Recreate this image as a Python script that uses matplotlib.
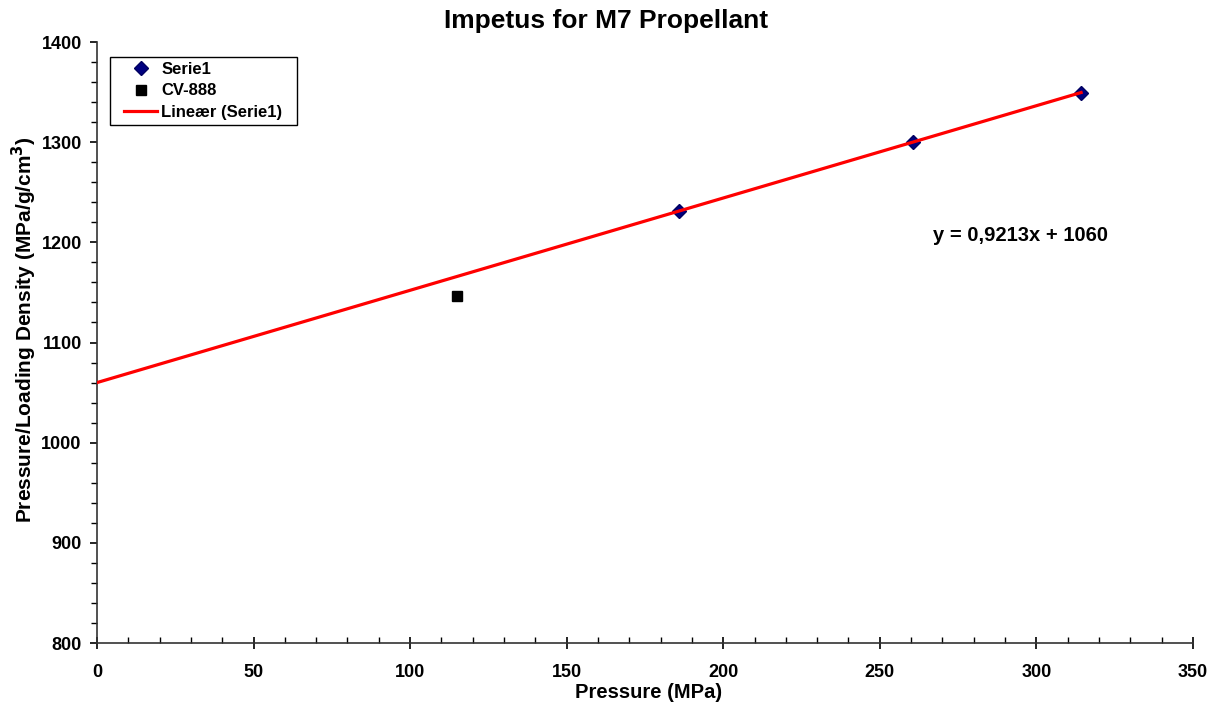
import matplotlib
matplotlib.use("Agg")
import matplotlib.pyplot as plt
import numpy as np
from matplotlib.ticker import MultipleLocator
from matplotlib.path import Path

plt.rcParams['font.family'] = ['Liberation Sans', 'DejaVu Sans']
plt.rcParams['font.weight'] = 'bold'

serie1_x = [185.9, 260.6, 314.3]
serie1_y = [1231, 1300, 1349.5]
cv_x = [115]
cv_y = [1146]
slope = 0.9213
intercept = 1060
eq_text = "y = 0,9213x + 1060"

fig = plt.figure(figsize=(12.26, 7.06), dpi=100)
ax = fig.add_axes([0.0791, 0.0892, 0.973 - 0.0791, 0.9405 - 0.0892])

ax.plot(serie1_x, serie1_y, linestyle='none', marker='D', markersize=7,
        color='#000080', markeredgecolor='#000060', label='Serie1', zorder=3)
ax.plot(cv_x, cv_y, linestyle='none', marker='s', markersize=7,
        color='black', label='CV-888', zorder=3)
xl = np.array([0, max(serie1_x)])
ax.plot(xl, slope * xl + intercept, color='#ff0000', lw=2.3,
        label='Lineær (Serie1)', zorder=4)

ax.set_xlim(0, 350)
ax.set_ylim(800, 1400)
ax.xaxis.set_major_locator(MultipleLocator(50))
ax.xaxis.set_minor_locator(MultipleLocator(10))
ax.yaxis.set_major_locator(MultipleLocator(100))
ax.yaxis.set_minor_locator(MultipleLocator(20))
ax.tick_params(axis='x', which='major', direction='inout', length=8, width=1.2, labelsize=13, pad=11)
ax.tick_params(axis='x', which='minor', direction='in', length=4, width=1)
ax.tick_params(axis='y', which='major', direction='out', length=5, width=1.2, labelsize=13, pad=6)
ax.tick_params(axis='y', which='minor', direction='out', length=4, width=1)
for s in ['top', 'right']:
    ax.spines[s].set_visible(False)
for s in ['left', 'bottom']:
    ax.spines[s].set_linewidth(1.2)
    ax.spines[s].set_color('#333333')

fig.text(606 / 1226, 1 - 21 / 706, 'Impetus for M7 Propellant', fontsize=19,
         fontweight='bold', ha='center', va='center')
ax.set_xlabel('Pressure (MPa)', fontsize=14.5, fontweight='bold', va='center')
ax.xaxis.set_label_coords(0.503, -0.083)
ax.set_ylabel('Pressure/Loading Density (MPa/g/cm$^\\mathbf{3}$)', fontsize=15,
              fontweight='bold', va='center')
ax.yaxis.set_label_coords(-0.066, 0.521)

ax.text(295, 1207, eq_text, fontsize=14.5, fontweight='bold', ha='center', va='center')

leg = ax.legend(loc='upper left', bbox_to_anchor=(0.020, 0.975), fancybox=False,
                edgecolor='black', framealpha=1, fontsize=12, borderaxespad=0,
                handlelength=2.0, handletextpad=0.25, labelspacing=0.38, borderpad=0.3)
leg.get_frame().set_linewidth(1)


def hbox(x0, y0, width, height, mutation_size):
    dx = 0.55 * mutation_size
    return Path([(x0 - dx, y0), (x0 + width + dx, y0), (x0 + width + dx, y0 + height),
                 (x0 - dx, y0 + height), (x0 - dx, y0)], closed=True)


try:
    leg.get_frame().set_boxstyle(hbox)
except Exception:
    pass

fig.savefig('out.png', dpi=100)
